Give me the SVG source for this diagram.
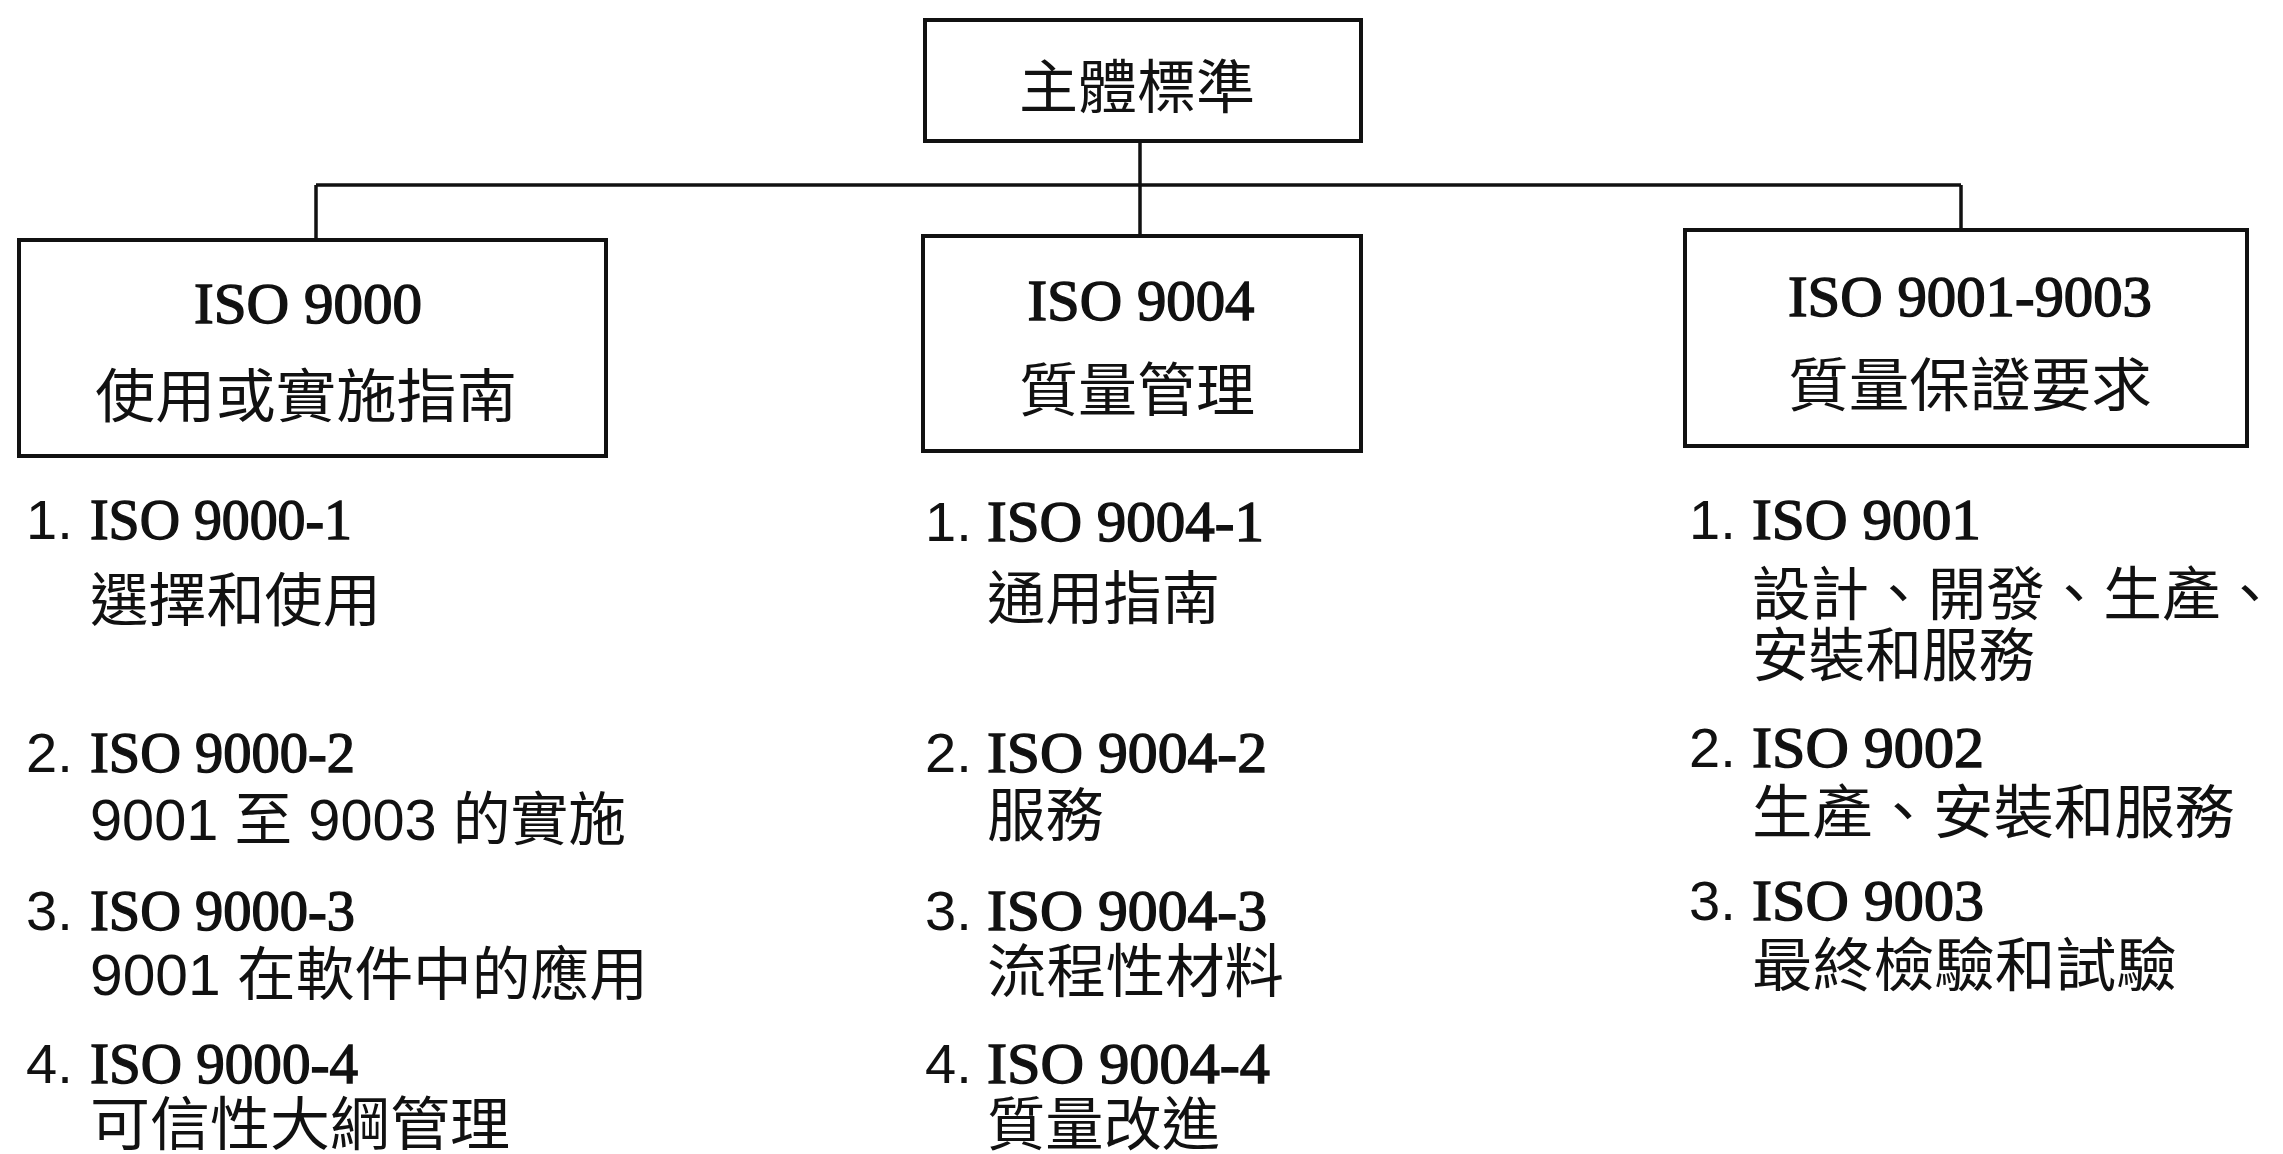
<svg xmlns="http://www.w3.org/2000/svg" width="2283" height="1154" viewBox="0 0 2283 1154">
<style>
.box{fill:#fff;stroke:#111;stroke-width:4}
.ln{stroke:#111;stroke-width:3.5;fill:none}
.cjk{font-family:"Liberation Sans","Noto Sans CJK TC","Noto Sans CJK SC",sans-serif;font-size:58px;fill:#111}
.iso{font-family:"Liberation Serif",serif;font-size:57px;fill:#111;stroke:#111;stroke-width:1.4}
.num{font-family:"Liberation Sans",sans-serif;font-size:56px;fill:#111}
.c{text-anchor:middle}
</style>
<rect width="2283" height="1154" fill="#fff"/>
<g id="connectors">
<line class="ln" x1="1140" y1="141" x2="1140" y2="236"/>
<line class="ln" x1="316" y1="185" x2="1961" y2="185"/>
<line class="ln" x1="316" y1="185" x2="316" y2="240"/>
<line class="ln" x1="1961" y1="185" x2="1961" y2="230"/>
</g>
<g id="node-main">
<rect class="box" x="925" y="20" width="436" height="121"/>
<text class="cjk c" x="1137" y="108" textLength="236" lengthAdjust="spacingAndGlyphs">主體標準</text>
</g>
<g id="node-iso9000">
<rect class="box" x="19" y="240" width="587" height="216"/>
<text class="iso c" x="308" y="323" font-size="60" textLength="228" lengthAdjust="spacingAndGlyphs">ISO 9000</text>
<text class="cjk c" x="306" y="417" font-size="60" textLength="422" lengthAdjust="spacingAndGlyphs">使用或實施指南</text>
</g>
<g id="node-iso9004">
<rect class="box" x="923" y="236" width="438" height="215"/>
<text class="iso c" x="1141" y="320" font-size="60" textLength="227" lengthAdjust="spacingAndGlyphs">ISO 9004</text>
<text class="cjk c" x="1137" y="411" font-size="60" textLength="236" lengthAdjust="spacingAndGlyphs">質量管理</text>
</g>
<g id="node-iso9001-9003">
<rect class="box" x="1685" y="230" width="562" height="216"/>
<text class="iso c" x="1970" y="316" font-size="60" textLength="364" lengthAdjust="spacingAndGlyphs">ISO 9001-9003</text>
<text class="cjk c" x="1970" y="406" font-size="60" textLength="364" lengthAdjust="spacingAndGlyphs">質量保證要求</text>
</g>
<g id="list-iso9000">
<text class="num" x="26" y="539">1.</text>
<text class="iso" x="90" y="539" textLength="262" lengthAdjust="spacingAndGlyphs">ISO 9000-1</text>
<text class="cjk" x="90" y="621" textLength="291" lengthAdjust="spacingAndGlyphs">選擇和使用</text>
<text class="num" x="26" y="772">2.</text>
<text class="iso" x="90" y="772" textLength="265" lengthAdjust="spacingAndGlyphs">ISO 9000-2</text>
<text class="cjk" x="90" y="840" textLength="536" lengthAdjust="spacingAndGlyphs">9001 至 9003 的實施</text>
<text class="num" x="26" y="930">3.</text>
<text class="iso" x="90" y="930" textLength="265" lengthAdjust="spacingAndGlyphs">ISO 9000-3</text>
<text class="cjk" x="90" y="995" textLength="558" lengthAdjust="spacingAndGlyphs">9001 在軟件中的應用</text>
<text class="num" x="26" y="1083">4.</text>
<text class="iso" x="90" y="1083" textLength="268" lengthAdjust="spacingAndGlyphs">ISO 9000-4</text>
<text class="cjk" x="90" y="1145" textLength="420" lengthAdjust="spacingAndGlyphs">可信性大綱管理</text>
</g>
<g id="list-iso9004">
<text class="num" x="925" y="541">1.</text>
<text class="iso" x="987" y="541" textLength="277" lengthAdjust="spacingAndGlyphs">ISO 9004-1</text>
<text class="cjk" x="987" y="619" textLength="233" lengthAdjust="spacingAndGlyphs">通用指南</text>
<text class="num" x="925" y="772">2.</text>
<text class="iso" x="987" y="772" textLength="280" lengthAdjust="spacingAndGlyphs">ISO 9004-2</text>
<text class="cjk" x="987" y="836" textLength="117" lengthAdjust="spacingAndGlyphs">服務</text>
<text class="num" x="925" y="930">3.</text>
<text class="iso" x="987" y="930" textLength="280" lengthAdjust="spacingAndGlyphs">ISO 9004-3</text>
<text class="cjk" x="987" y="992" textLength="297" lengthAdjust="spacingAndGlyphs">流程性材料</text>
<text class="num" x="925" y="1083">4.</text>
<text class="iso" x="987" y="1083" textLength="283" lengthAdjust="spacingAndGlyphs">ISO 9004-4</text>
<text class="cjk" x="987" y="1145" textLength="233" lengthAdjust="spacingAndGlyphs">質量改進</text>
</g>
<g id="list-iso9001-9003">
<text class="num" x="1689" y="539">1.</text>
<text class="iso" x="1752" y="539" textLength="229" lengthAdjust="spacingAndGlyphs">ISO 9001</text>
<text class="cjk" x="1752" y="615" textLength="527" lengthAdjust="spacingAndGlyphs">設計、開發、生產、</text>
<text class="cjk" x="1752" y="676" textLength="283" lengthAdjust="spacingAndGlyphs">安裝和服務</text>
<text class="num" x="1689" y="767">2.</text>
<text class="iso" x="1752" y="767" textLength="232" lengthAdjust="spacingAndGlyphs">ISO 9002</text>
<text class="cjk" x="1752" y="833" textLength="483" lengthAdjust="spacingAndGlyphs">生產、安裝和服務</text>
<text class="num" x="1689" y="920">3.</text>
<text class="iso" x="1752" y="920" textLength="232" lengthAdjust="spacingAndGlyphs">ISO 9003</text>
<text class="cjk" x="1752" y="986" textLength="425" lengthAdjust="spacingAndGlyphs">最終檢驗和試驗</text>
</g>
</svg>
